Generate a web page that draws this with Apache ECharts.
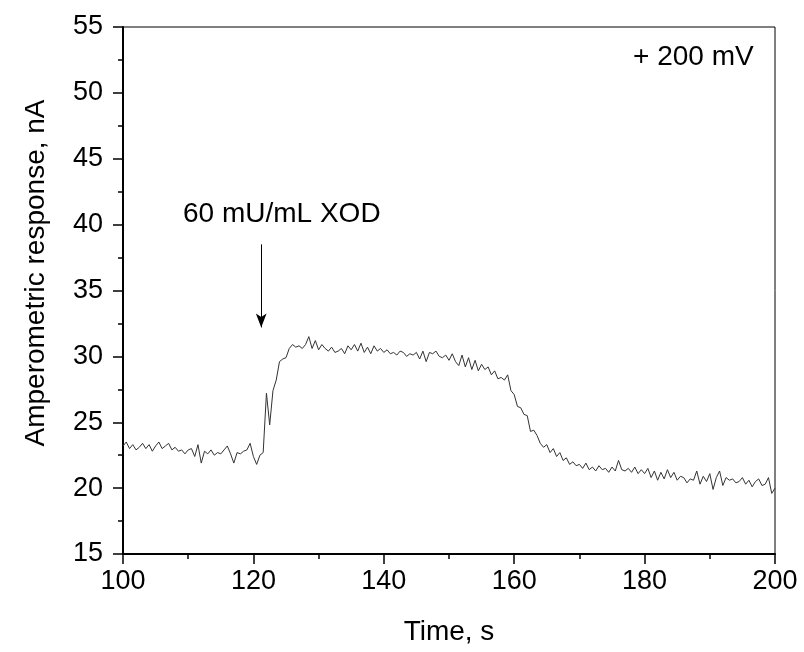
<!DOCTYPE html>
<html><head><meta charset="utf-8">
<script src="https://cdn.jsdelivr.net/npm/echarts@6/dist/echarts.min.js"></script>
<style>html,body{margin:0;padding:0;background:#fff}#c{width:804px;height:652px}</style>
</head><body><div id="c"></div>
<script>
var startTime = 100, step = 0.5;
var response = [
23.2,23.5,23.0,23.3,22.9,23.1,23.4,23.0,23.3,22.8,
23.2,23.5,23.0,23.2,23.4,22.9,23.1,22.8,22.9,22.6,
22.9,23.0,22.4,23.3,21.9,22.8,22.6,22.9,22.5,22.7,
22.6,22.9,23.2,22.6,21.9,22.7,22.6,22.8,22.9,23.4,
22.4,21.8,22.5,22.7,27.2,24.8,27.4,28.2,29.6,29.8,
29.9,30.6,30.9,30.7,30.8,30.6,30.9,31.5,30.6,31.2,
30.5,30.9,30.6,30.4,30.7,30.3,30.4,30.6,30.2,30.8,
30.5,30.9,30.4,31.0,30.3,30.7,30.2,30.8,30.4,30.6,
30.3,30.5,30.2,30.3,30.1,30.4,30.3,30.0,30.2,30.1,
30.3,29.8,30.4,29.6,30.3,30.2,30.4,30.0,29.9,30.1,
29.7,30.2,29.6,29.3,30.1,29.2,29.9,29.0,29.7,28.9,
29.4,29.0,29.2,28.6,28.9,28.3,28.4,28.2,28.6,27.4,
27.1,26.2,26.1,25.6,25.5,24.3,24.4,24.0,23.4,23.1,
23.3,22.7,23.0,22.4,22.7,22.1,22.3,21.8,22.0,21.7,
21.8,21.5,21.9,21.4,21.6,21.3,21.7,21.4,21.5,21.2,
21.6,21.3,22.1,21.4,21.3,21.5,21.2,21.6,21.1,21.4,
21.1,21.5,20.8,21.3,20.6,21.2,20.7,21.4,20.8,21.2,
20.6,20.9,20.8,20.4,20.7,20.6,21.3,20.3,20.9,20.5,
21.1,19.9,20.8,21.3,20.2,20.8,20.6,20.7,20.4,20.5,
20.8,20.3,20.6,20.1,20.5,20.7,20.2,20.3,20.8,19.6,
20.0
];
var xTicks = [100,120,140,160,180,200];
var yTicks = [15,20,25,30,35,40,45,50,55];
var arrowFrom = [121.2, 38.5], arrowTo = [121.2, 32.2];
var annotationText = '60 mU/mL XOD';
var potentialText = '+ 200 mV';
var xName = 'Time, s', yName = 'Amperometric response, nA';

var points = response.map(function(v,i){return [startTime + i*step, v];});
var FONT = 'Liberation Sans, Arial, sans-serif';
var chart = echarts.init(document.getElementById('c'));
chart.setOption({
  backgroundColor:'#fff',
  animation:false,
  grid:{left:123,right:29,top:27,bottom:98,show:true,borderColor:'#000',borderWidth:1,
    containLabel:false,outerBoundsMode:'none'},
  xAxis:{type:'value',min:xTicks[0],max:xTicks[xTicks.length-1],interval:20,
    name:xName,nameLocation:'middle',nameGap:64,
    nameTextStyle:{fontFamily:FONT,fontSize:28,color:'#000'},
    axisLine:{show:true,lineStyle:{color:'#000',width:2}},
    axisTick:{show:true,inside:false,length:10,lineStyle:{color:'#000',width:1.5}},
    minorTick:{show:true,splitNumber:2,length:5,lineStyle:{color:'#000',width:1.5}},
    splitLine:{show:false},
    axisLabel:{fontFamily:FONT,fontSize:27,color:'#000',margin:14}},
  yAxis:{type:'value',min:yTicks[0],max:yTicks[yTicks.length-1],interval:5,
    axisLine:{show:true,lineStyle:{color:'#000',width:2}},
    axisTick:{show:true,inside:false,length:10,lineStyle:{color:'#000',width:1.5}},
    minorTick:{show:true,splitNumber:2,length:5,lineStyle:{color:'#000',width:1.5}},
    splitLine:{show:false},
    axisLabel:{fontFamily:FONT,fontSize:27,color:'#000',margin:20}},
  series:[{type:'line',data:points,showSymbol:false,symbol:'none',
    lineStyle:{color:'#333',width:1},
    markLine:{silent:true,symbol:['none','arrow'],symbolSize:[8,14],
      label:{show:false},
      lineStyle:{color:'#000',width:1,type:'solid'},
      data:[[{coord:arrowFrom},{coord:arrowTo}]]}}],
  graphic:[
    {type:'text',x:36,y:273,rotation:Math.PI/2,
      style:{text:yName,fontFamily:FONT,fontSize:28,fill:'#000',align:'center',verticalAlign:'middle'}},
    {type:'text',left:183,top:200,style:{text:annotationText,fontFamily:FONT,fontSize:28,fill:'#000'}},
    {type:'text',left:633,top:43,style:{text:potentialText,fontFamily:FONT,fontSize:28,fill:'#000'}}
  ]
});
</script></body></html>
